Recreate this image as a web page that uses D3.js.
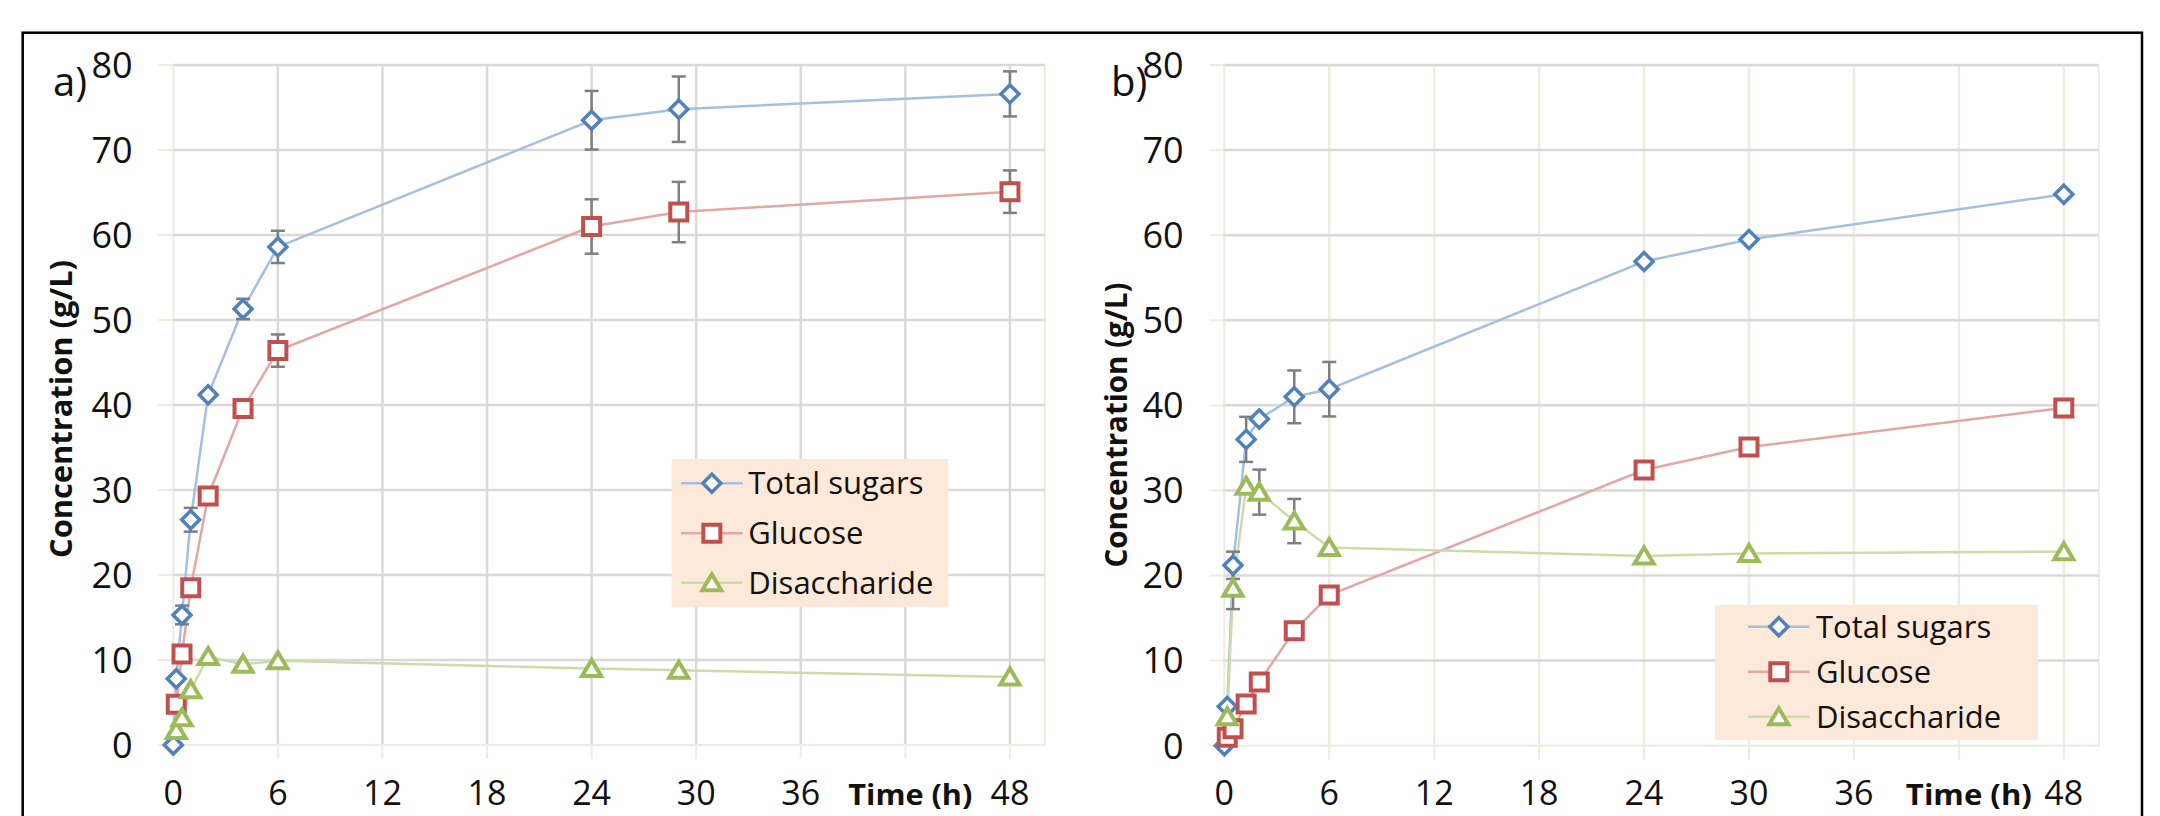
<!DOCTYPE html>
<html>
<head>
<meta charset="utf-8">
<script src="https://cdn.jsdelivr.net/npm/d3@7"></script>
<style>
  html, body { margin: 0; padding: 0; background: #fff; }
  svg { display: block; font-family: "Open Sans", "Noto Sans", sans-serif; }
</style>
</head>
<body>
<div id="chart"></div>
<script>
// time axis ticks (42 is replaced by the axis title)
const xTicks = [0, 6, 12, 18, 24, 30, 36, 48];
const yTicks = [0, 10, 20, 30, 40, 50, 60, 70, 80];
const seriesNames = ["Total sugars", "Glucose", "Disaccharide"];

// panel a)
const timesA = [0, 0.17, 0.5, 1, 2, 4, 6, 24, 29, 48];
const totalA = [0, 7.8, 15.3, 26.5, 41.2, 51.3, 58.6, 73.5, 74.8, 76.6];
const totalErrA = [null, null, 1.1, 1.4, null, 1.2, 1.9, 3.45, 3.85, 2.65];
const glucoseA = [null, 4.8, 10.7, 18.5, 29.3, 39.6, 46.4, 61.0, 62.7, 65.1];
const glucoseErrA = [null, null, null, null, null, null, 1.9, 3.2, 3.55, 2.5];
const disaccA = [null, 1.7, 3.2, 6.5, 10.4, 9.5, 9.9, 9.0, 8.8, 8.0];
const disaccErrA = [null, null, null, null, null, null, null, null, null, null];

// panel b)
const timesB = [0, 0.17, 0.5, 1.25, 2, 4, 6, 24, 30, 48];
const totalB = [0, 4.6, 21.2, 36.0, 38.4, 41.0, 41.9, 56.9, 59.5, 64.8];
const totalErrB = [null, null, 1.6, 2.65, null, 3.1, 3.2, null, null, null];
const glucoseB = [null, 1.0, 2.0, 4.9, 7.5, 13.5, 17.7, 32.4, 35.1, 39.7];
const glucoseErrB = [null, null, null, null, null, null, null, null, null, null];
const disaccB = [null, 3.4, 18.5, 30.5, 29.8, 26.4, 23.3, 22.3, 22.6, 22.8];
const disaccErrB = [null, 1.4, 2.45, null, 2.65, 2.6, null, null, null, null];

const colors = ["#4f81bd", "#c0504d", "#9bbb59"];
const lineColors = ["#a4bfe0", "#e2a7a6", "#cbdca8"];
const gridGray = "#d9d9d9";
const beige = "#eeece1";

const width = 2160, height = 816;

const svg = d3.select("#chart").append("svg")
  .attr("width", width)
  .attr("height", height);

svg.append("rect").attr("width", width).attr("height", height).attr("fill", "#fff");

// outer frame (bottom edge is cut off)
svg.append("rect")
  .attr("x", 22.7).attr("y", 32.7)
  .attr("width", 2142 - 22.7).attr("height", 900)
  .attr("fill", "none").attr("stroke", "#000").attr("stroke-width", 2.5);

// marker shapes
function markerPath(kind) {
  if (kind === 0) return "M0,-9L9,0L0,9L-9,0Z";
  if (kind === 1) return "M-8.5,-8.5H8.5V8.5H-8.5Z";
  return "M0,-8.5L9.5,7.5L-9.5,7.5Z";
}
const markerStroke = [3.5, 4, 4];

function drawPanel(p) {
  const x = d3.scaleLinear().domain([0, 50]).range([p.x0, p.x50]);
  const y = d3.scaleLinear().domain([0, 80]).range([p.y0, p.y80]);
  const g = svg.append("g");

  // tick marks (beige)
  g.append("g").selectAll("line").data(yTicks).enter().append("line")
    .attr("x1", x(0) - 15).attr("x2", x(0))
    .attr("y1", d => y(d)).attr("y2", d => y(d))
    .attr("stroke", beige).attr("stroke-width", 2);
  g.append("g").selectAll("line").data(xTicks.concat([42])).enter().append("line")
    .attr("x1", d => x(d)).attr("x2", d => x(d))
    .attr("y1", y(0)).attr("y2", y(0) + 14)
    .attr("stroke", beige).attr("stroke-width", 2);

  // vertical gridlines
  g.append("g").selectAll("line").data([6, 12, 18, 24, 30, 36, 42, 48]).enter().append("line")
    .attr("x1", d => x(d)).attr("x2", d => x(d))
    .attr("y1", y(80)).attr("y2", y(0))
    .attr("stroke", p.vGrid).attr("stroke-width", 2.5);
  g.append("g").selectAll("line").data([0, 50]).enter().append("line")
    .attr("x1", d => x(d)).attr("x2", d => x(d))
    .attr("y1", y(80)).attr("y2", y(0))
    .attr("stroke", beige).attr("stroke-width", 2);

  // horizontal gridlines
  g.append("g").selectAll("line").data(yTicks.slice(1)).enter().append("line")
    .attr("x1", x(0)).attr("x2", x(50))
    .attr("y1", d => y(d)).attr("y2", d => y(d))
    .attr("stroke", gridGray).attr("stroke-width", 2.5);
  g.append("line")
    .attr("x1", x(0)).attr("x2", x(50))
    .attr("y1", y(0)).attr("y2", y(0))
    .attr("stroke", beige).attr("stroke-width", 2);

  // y tick labels
  g.append("g").selectAll("text").data(yTicks).enter().append("text")
    .attr("x", x(0) - 40.7)
    .attr("y", d => y(d) + 12.8)
    .attr("text-anchor", "end")
    .attr("font-size", 36)
    .attr("fill", "#111")
    .text(d => d);

  // x tick labels (kept inside the bottom edge)
  g.append("g").selectAll("text").data(xTicks).enter().append("text")
    .attr("x", d => x(d))
    .attr("y", 805)
    .attr("text-anchor", "middle")
    .attr("font-size", 34)
    .attr("fill", "#111")
    .text(d => d);

  // axis titles
  g.append("text")
    .attr("x", x(42) + p.timeDx).attr("y", 805)
    .attr("text-anchor", "middle")
    .attr("font-size", 28).attr("font-weight", "bold")
    .attr("textLength", p.timeLen).attr("lengthAdjust", "spacingAndGlyphs")
    .attr("fill", "#111")
    .text("Time (h)");

  g.append("text")
    .attr("transform", `translate(${p.titleX},${p.titleY}) rotate(-90)`)
    .attr("text-anchor", "middle")
    .attr("font-size", 30).attr("font-weight", "bold")
    .attr("textLength", p.titleLen).attr("lengthAdjust", "spacingAndGlyphs")
    .attr("fill", "#111")
    .text("Concentration (g/L)");

  // panel label
  g.append("text")
    .attr("x", p.labelX).attr("y", 96)
    .attr("font-size", 40)
    .attr("fill", "#111")
    .text(p.label);

  const series = p.series;

  // lines
  series.forEach((s, i) => {
    const pts = p.times.map((t, k) => ({ t, v: s.values[k] })).filter(d => d.v != null);
    g.append("path")
      .datum(pts)
      .attr("fill", "none")
      .attr("stroke", lineColors[i])
      .attr("stroke-width", 2.5)
      .attr("d", d3.line().x(d => x(d.t)).y(d => y(d.v)));
  });

  // error bars
  series.forEach((s) => {
    const eb = p.times.map((t, k) => ({ t, v: s.values[k], e: s.err[k] }))
      .filter(d => d.v != null && d.e != null);
    const eg = g.append("g").attr("stroke", "#7f7f7f").attr("stroke-width", 2.5);
    eg.selectAll(".v").data(eb).enter().append("line")
      .attr("x1", d => x(d.t)).attr("x2", d => x(d.t))
      .attr("y1", d => y(d.v + d.e)).attr("y2", d => y(d.v - d.e));
    eg.selectAll(".top").data(eb).enter().append("line")
      .attr("x1", d => x(d.t) - 7).attr("x2", d => x(d.t) + 7)
      .attr("y1", d => y(d.v + d.e)).attr("y2", d => y(d.v + d.e));
    eg.selectAll(".bot").data(eb).enter().append("line")
      .attr("x1", d => x(d.t) - 7).attr("x2", d => x(d.t) + 7)
      .attr("y1", d => y(d.v - d.e)).attr("y2", d => y(d.v - d.e));
  });

  // markers
  series.forEach((s, i) => {
    const pts = p.times.map((t, k) => ({ t, v: s.values[k] })).filter(d => d.v != null);
    g.append("g").selectAll("path").data(pts).enter().append("path")
      .attr("transform", d => `translate(${x(d.t)},${y(d.v)})`)
      .attr("d", markerPath(i))
      .attr("fill", "#fff")
      .attr("stroke", colors[i])
      .attr("stroke-width", markerStroke[i]);
  });

  // legend
  const L = p.legend;
  const lg = g.append("g");
  lg.append("rect")
    .attr("x", L.x).attr("y", L.y).attr("width", L.w).attr("height", L.h)
    .attr("fill", "#fde9d9");
  seriesNames.forEach((name, i) => {
    const ry = L.rows[i];
    lg.append("line")
      .attr("x1", L.lx1).attr("x2", L.lx2).attr("y1", ry).attr("y2", ry)
      .attr("stroke", lineColors[i]).attr("stroke-width", 2.5);
    lg.append("path")
      .attr("transform", `translate(${(L.lx1 + L.lx2) / 2},${ry})`)
      .attr("d", markerPath(i))
      .attr("fill", "#fff")
      .attr("stroke", colors[i])
      .attr("stroke-width", markerStroke[i]);
    lg.append("text")
      .attr("x", L.tx).attr("y", ry + 11)
      .attr("font-size", 31)
      .attr("fill", "#111")
      .text(name);
  });
}

drawPanel({
  x0: 173.3, x50: 1044.8, y0: 745, y80: 65,
  vGrid: gridGray,
  label: "a)", labelX: 53,
  titleX: 72, titleY: 409, titleLen: 298,
  timeDx: 5, timeLen: 124,
  times: timesA,
  series: [
    { values: totalA, err: totalErrA },
    { values: glucoseA, err: glucoseErrA },
    { values: disaccA, err: disaccErrA }
  ],
  legend: { x: 671.7, y: 459, w: 276.6, h: 148.3, rows: [483.3, 533.3, 582.7], lx1: 681, lx2: 742.7, tx: 748.3 }
});

drawPanel({
  x0: 1224.3, x50: 2098.8, y0: 745.7, y80: 65,
  vGrid: beige,
  label: "b)", labelX: 1111,
  titleX: 1127, titleY: 425, titleLen: 285,
  timeDx: 10, timeLen: 126,
  times: timesB,
  series: [
    { values: totalB, err: totalErrB },
    { values: glucoseB, err: glucoseErrB },
    { values: disaccB, err: disaccErrB }
  ],
  legend: { x: 1715, y: 605, w: 323, h: 135, rows: [626.7, 671.7, 716.7], lx1: 1748, lx2: 1809.6, tx: 1816 }
});
</script>
</body>
</html>
